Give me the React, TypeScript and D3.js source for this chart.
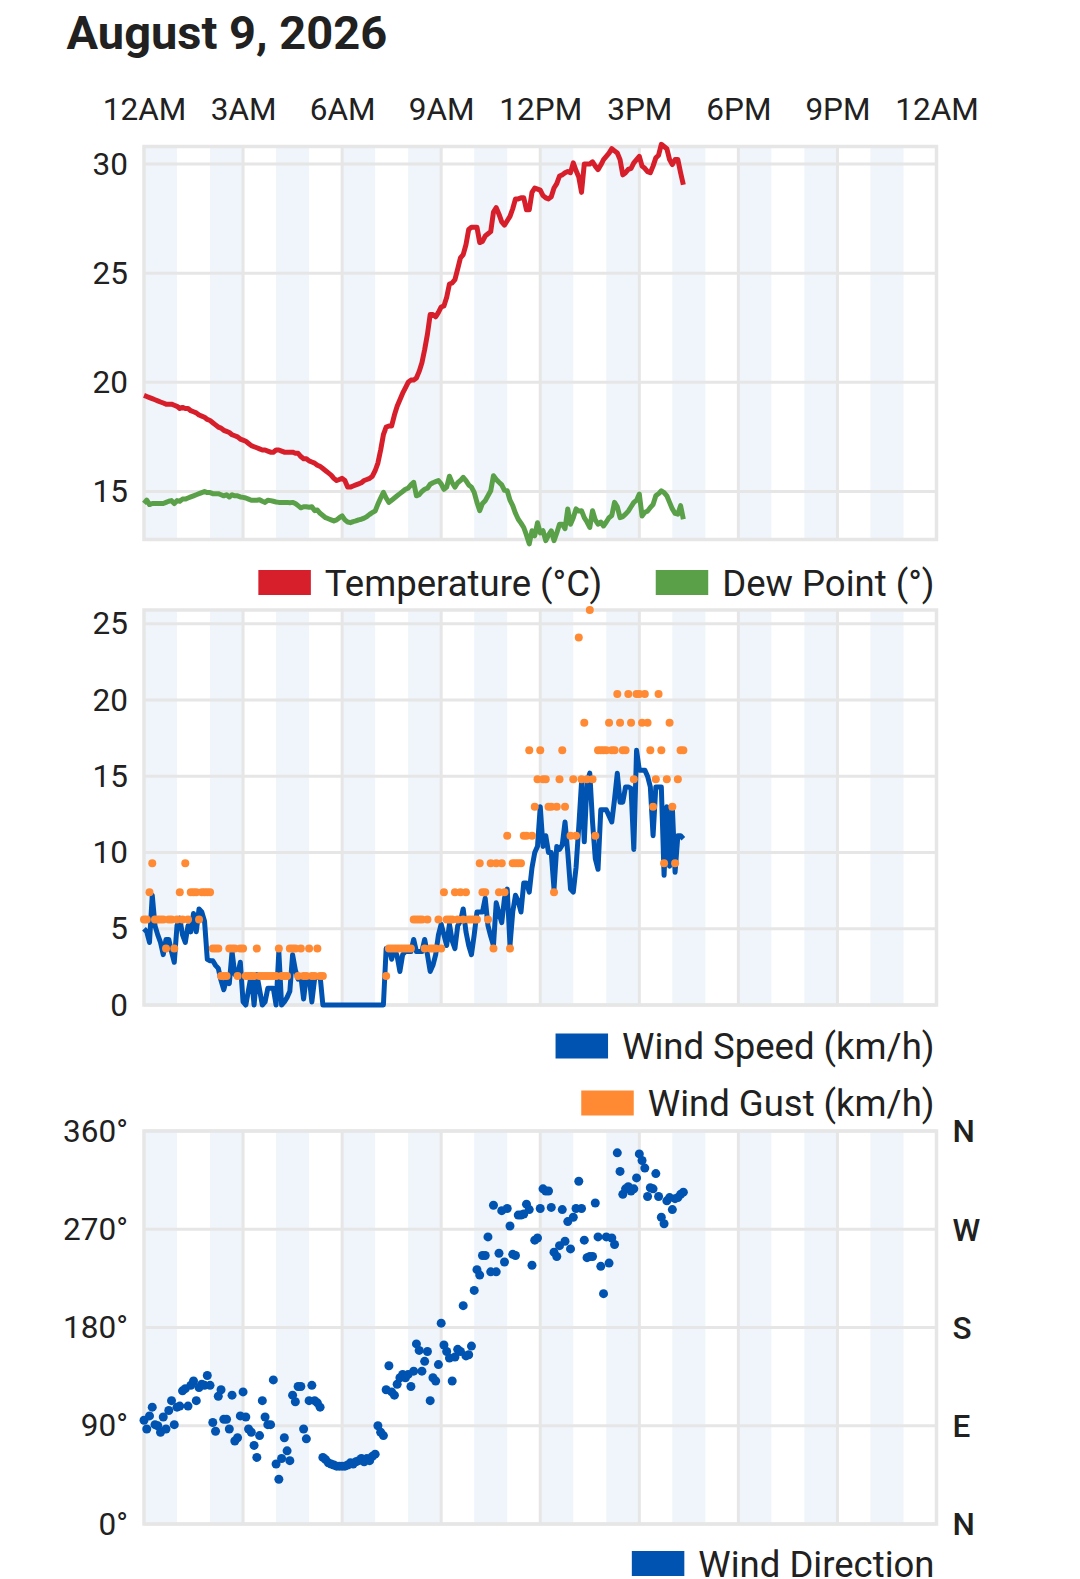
import React, { useRef, useEffect } from "react";
import * as d3 from "d3";

// one reading every 5 minutes, starting at midnight
const STEP_MIN = 5;

const hourLabels = ["12AM", "3AM", "6AM", "9AM", "12PM", "3PM", "6PM", "9PM", "12AM"];
const tempTicks = [15, 20, 25, 30];
const windTicks = [0, 5, 10, 15, 20, 25];
const dirTicks = [0, 90, 180, 270, 360];
const compassLabels = ["N", "E", "S", "W", "N"];

// °C
const temperature = [
  19.4, 19.35, 19.3, 19.25, 19.2, 19.15, 19.1, 19.05, 19.0, 19.0, 19.0, 18.95,
  18.9, 18.8, 18.85, 18.8, 18.8, 18.7, 18.65, 18.6, 18.5, 18.45, 18.4, 18.3,
  18.25, 18.15, 18.05, 17.95, 17.9, 17.8, 17.75, 17.7, 17.6, 17.55, 17.5, 17.4,
  17.35, 17.3, 17.2, 17.1, 17.05, 17.0, 16.95, 16.9, 16.9, 16.85, 16.8, 16.8,
  16.9, 16.9, 16.85, 16.8, 16.8, 16.8, 16.8, 16.75, 16.75, 16.6, 16.5, 16.5,
  16.4, 16.35, 16.3, 16.2, 16.15, 16.05, 15.95, 15.85, 15.75, 15.6, 15.5, 15.55,
  15.6, 15.5, 15.2, 15.2, 15.25, 15.3, 15.35, 15.4, 15.5, 15.55, 15.6, 15.7,
  15.95, 16.3, 16.9, 17.6, 17.95, 18.0, 18.0, 18.5, 18.9, 19.2, 19.5, 19.75,
  20.0, 20.1, 20.1, 20.2, 20.5, 20.9, 21.5, 22.2, 23.1, 23.1, 23.0, 23.2,
  23.45, 23.5, 23.9, 24.5, 24.55, 24.7, 25.2, 25.7, 25.85, 26.3, 27.0, 27.1,
  27.1, 27.1, 26.4, 26.45, 26.7, 26.8, 26.9, 27.8, 28.0, 27.7, 27.35, 27.2,
  27.4, 27.6, 27.95, 28.4, 28.4, 28.45, 28.45, 27.9, 27.9, 28.7, 28.9, 28.85,
  28.8, 28.55, 28.45, 28.4, 28.5, 28.9, 29.1, 29.45, 29.5, 29.6, 29.66, 29.6,
  30.05, 29.7, 29.4, 28.7, 30.0, 30.0, 30.0, 30.1, 29.9, 29.74, 29.95, 30.2,
  30.35, 30.5, 30.7, 30.6, 30.5, 30.2, 29.5, 29.6, 29.75, 29.8, 30.05, 30.2,
  30.35, 29.9, 29.8, 29.65, 29.6, 29.9, 30.28, 30.4, 30.9, 30.8, 30.7, 30.2,
  29.97, 30.2, 30.2, 29.6, 29.05,
];

const dewPoint = [
  14.45, 14.6, 14.4, 14.45, 14.45, 14.45, 14.45, 14.45, 14.5, 14.55, 14.58, 14.45,
  14.58, 14.55, 14.65, 14.65, 14.7, 14.75, 14.8, 14.85, 14.9, 14.95, 15.0, 14.95,
  14.95, 14.9, 14.9, 14.9, 14.85, 14.8, 14.85, 14.75, 14.85, 14.8, 14.8, 14.75,
  14.73, 14.7, 14.65, 14.6, 14.6, 14.6, 14.62, 14.55, 14.5, 14.6, 14.58, 14.55,
  14.52, 14.5, 14.5, 14.5, 14.5, 14.48, 14.5, 14.45, 14.35, 14.25, 14.3, 14.3,
  14.28, 14.3, 14.12, 14.15, 14.0, 13.9, 13.8, 13.75, 13.7, 13.65, 13.7, 13.8,
  13.88, 13.7, 13.6, 13.57, 13.62, 13.65, 13.7, 13.73, 13.78, 13.85, 13.95, 14.04,
  14.1, 14.42, 14.7, 14.96, 14.7, 14.5, 14.6, 14.7, 14.8, 14.9, 15.0, 15.1,
  15.15, 15.3, 15.42, 14.8, 14.85, 15.0, 15.1, 15.15, 15.33, 15.4, 15.45, 15.5,
  15.35, 15.1, 15.2, 15.7, 15.4, 15.2, 15.4, 15.5, 15.65, 15.5, 15.3, 15.2,
  14.96, 14.5, 14.12, 14.45, 14.58, 14.8, 15.03, 15.72, 15.55, 15.42, 15.3, 15.05,
  15.03, 14.6, 14.35, 14.0, 13.73, 13.55, 13.35, 13.0, 12.6, 13.2, 12.97, 13.57,
  13.1, 13.2, 12.75, 13.0, 13.2, 12.75, 13.1, 13.5, 13.5, 13.3, 14.2, 13.5,
  13.8, 14.2, 14.1, 14.12, 13.8, 13.6, 13.35, 14.12, 13.7, 13.5, 13.6, 13.42,
  13.6, 13.8, 13.9, 14.5, 14.3, 13.8, 13.85, 13.96, 14.1, 14.3, 14.5, 14.6,
  14.88, 13.88, 14.05, 14.1, 14.27, 14.4, 14.8, 14.9, 15.03, 14.95, 14.8, 14.5,
  14.2, 14.0, 13.96, 14.35, 13.73,
];

// km/h
const windSpeed = [
  5.0, 4.8, 4.1, 7.2, 5.2, 4.6, 4.1, 3.3, 4.3, 4.3, 3.5, 2.8,
  5.2, 5.7, 4.6, 4.1, 5.2, 4.8, 6.0, 4.8, 6.3, 6.1, 5.5, 3.0,
  2.9, 2.9, 2.6, 2.4, 1.6, 1.0, 1.7, 1.4, 3.5, 2.0, 2.0, 2.8,
  0.2, 0.0, 1.0, 2.0, 0.0, 2.0, 1.0, 0.0, 0.2, 1.1, 1.1, 1.1,
  0.0, 3.5, 0.0, 0.2, 0.5, 0.9, 3.3, 2.3, 1.7, 1.9, 0.4, 1.9,
  1.9, 0.2, 1.7, 1.9, 1.9, 0, 0, 0, 0, 0, 0, 0,
  0, 0, 0, 0, 0, 0, 0, 0, 0, 0, 0, 0,
  0, 0, 0, 0, 3.7, 3.7, 3.0, 3.7, 3.2, 2.2, 3.3, 3.5,
  3.5, 3.5, 4.3, 3.5, 3.5, 3.5, 4.3, 3.3, 2.2, 2.6, 3.3, 4.6,
  5.3, 4.6, 3.9, 5.3, 4.2, 3.7, 5.2, 5.5, 6.3, 4.8, 3.9, 3.3,
  4.6, 6.1, 6.1, 6.1, 7.0, 5.2, 4.5, 3.9, 6.7, 6.0, 5.4, 7.0,
  7.6, 3.9, 6.1, 7.2, 6.8, 6.1, 8.0, 8.0, 7.4, 9.0, 10.0, 10.4,
  13.0, 10.4, 11.1, 10.0, 10.0, 7.6, 10.4, 10.2, 10.5, 12.0, 10.0, 7.6,
  7.4, 9.0, 11.7, 14.6, 10.7, 14.6, 15.2, 12.0, 9.6, 8.9, 12.8, 12.8,
  12.8, 12.4, 12.0, 13.5, 15.2, 13.3, 13.3, 14.3, 14.3, 14.2, 10.2, 16.7,
  15.4, 15.4, 15.4, 15.0, 14.3, 11.1, 14.3, 14.3, 14.3, 8.5, 13.0, 9.1,
  13.0, 8.7, 11.1, 11.1, 10.9,
];

const windGust: (number | null)[] = [
  5.6, 5.6, 7.4, 9.3, 5.6, 5.6, 5.6, 5.6, 3.7, 5.6, 5.6, 3.7,
  5.6, 7.4, 5.6, 9.3, 5.6, 7.4, 7.4, 7.4, 5.6, 7.4, 7.4, 7.4,
  7.4, 3.7, 3.7, 3.7, 1.9, 1.9, 1.9, 3.7, 3.7, 3.7, 1.9, 3.7,
  3.7, 1.9, 1.9, 1.9, 1.9, 3.7, 1.9, 1.9, 1.9, 1.9, 1.9, 1.9,
  1.9, 3.7, 1.9, 1.9, 1.9, 3.7, 3.7, 3.7, 1.9, 3.7, 1.9, 1.9,
  3.7, 1.9, 1.9, 3.7, 1.9, 1.9, null, null, null, null, null, null,
  null, null, null, null, null, null, null, null, null, null, null, null,
  null, null, null, null, 1.9, 3.7, 3.7, 3.7, 3.7, 3.7, 3.7, 3.7,
  3.7, 3.7, 5.6, 5.6, 5.6, 5.6, 3.7, 5.6, 3.7, 3.7, 3.7, 5.6,
  3.7, 7.4, 5.6, 5.6, 5.6, 7.4, 5.6, 7.4, 5.6, 7.4, 5.6, 5.6,
  5.6, 5.6, 9.3, 7.4, 7.4, 5.6, 9.3, 3.7, 9.3, 7.4, 9.3, 7.4,
  11.1, 3.7, 9.3, 9.3, 9.3, 9.3, 11.1, 11.1, 16.7, 11.1, 13.0, 14.8,
  16.7, 14.8, 14.8, 13.0, 13.0, 7.4, 13.0, 14.8, 16.7, 13.0, null, 11.1,
  14.8, 11.1, 24.1, 14.8, 18.5, 14.8, 25.9, 14.8, 11.1, 16.7, 16.7, 16.7,
  16.7, 18.5, 16.7, 16.7, 20.4, 18.5, 16.7, 16.7, 20.4, 18.5, 14.8, 20.4,
  20.4, 18.5, 20.4, 18.5, 16.7, 13.0, 14.8, 20.4, 16.7, 9.3, 14.8, 18.5,
  13.0, 9.3, 14.8, 16.7, 16.7,
];

// degrees
const windDirection = [
  95, 87, 99, 107, 91, 90, 84, 98, 87, 104, 113, 91,
  107, 108, 122, 124, 108, 127, 131, 113, 125, 128, 127, 136,
  127, 93, 85, 117, 123, 96, 96, 87, 118, 76, 79, 99,
  121, 98, 87, 84, 72, 61, 81, 113, 98, 91, 91, 132,
  55, 41, 60, 79, 67, 58, 118, 112, 126, 126, 87, 78,
  113, 127, 113, 111, 107, 61, 59, 56, 55, 54, 53, 53,
  53, 53, 54, 56, 55, 57, 58, 60, 57, 60, 58, 62,
  64, 90, 84, 81, 123, 145, 121, 118, 128, 134, 137, 134,
  137, 126, 140, 165, 159, 140, 149, 158, 113, 134, 131, 146,
  184, 164, 158, 152, 131, 153, 160, 158, 200, 154, 155, 163,
  214, 233, 228, 246, 246, 263, 231, 292, 231, 248, 287, 240,
  289, 273, 247, 246, 283, 283, 284, 293, 288, 237, 260, 262,
  289, 307, 305, 305, 290, 249, 245, 255, 288, 259, 277, 252,
  281, 289, 314, 289, 260, 244, 245, 245, 294, 263, 236, 211,
  263, 239, 262, 256, 340, 323, 302, 307, 309, 305, 307, 317,
  339, 333, 326, 300, 308, 307, 321, 300, 281, 275, 296, 299,
  288, 298, 299, 302, 304,
];

const COLORS = {
  temp: "#d71f2b",
  dew: "#5aa049",
  speed: "#0053b1",
  gust: "#ff8a33",
  dir: "#0053b1",
  band: "#eff5fa",
  grid: "#e6e6e6",
  text: "#212121",
};

const WeatherChart: React.FC = () => {
  const ref = useRef<SVGSVGElement>(null);

  useEffect(() => {
    if (!ref.current) return;
    const svg = d3.select(ref.current);
    svg.selectAll("*").remove();

    const left = 144;
    const right = 936.5;
    const tickFont = 31.5;
    const legendFont = 36.5;
    const x = d3.scaleLinear().domain([0, 24 * 60]).range([left, right]);
    const t = (i: number) => x(i * STEP_MIN);

    const panel = (top: number, bottom: number) => {
      const g = svg.append("g");
      // shaded every other hour
      g.selectAll("rect.band")
        .data(d3.range(0, 24, 2))
        .join("rect")
        .attr("x", (h) => x(h * 60))
        .attr("width", (h) => x((h + 1) * 60) - x(h * 60))
        .attr("y", top)
        .attr("height", bottom - top)
        .attr("fill", COLORS.band);
      g.selectAll("line.vgrid")
        .data(d3.range(3, 24, 3))
        .join("line")
        .attr("x1", (h) => x(h * 60))
        .attr("x2", (h) => x(h * 60))
        .attr("y1", top)
        .attr("y2", bottom)
        .attr("stroke", COLORS.grid)
        .attr("stroke-width", 3);
      return g;
    };

    const hGrid = (g: any, y: d3.ScaleLinear<number, number>, ticks: number[]) => {
      g.selectAll("line.hgrid")
        .data(ticks)
        .join("line")
        .attr("x1", left)
        .attr("x2", right)
        .attr("y1", (d: number) => y(d))
        .attr("y2", (d: number) => y(d))
        .attr("stroke", COLORS.grid)
        .attr("stroke-width", 3);
    };

    const frame = (top: number, bottom: number) => {
      svg
        .append("rect")
        .attr("x", left)
        .attr("y", top)
        .attr("width", right - left)
        .attr("height", bottom - top)
        .attr("fill", "none")
        .attr("stroke", COLORS.grid)
        .attr("stroke-width", 3.5);
    };

    const leftAxis = (y: d3.ScaleLinear<number, number>, ticks: number[], fmt: (d: number) => string) => {
      const a = svg
        .append("g")
        .attr("transform", `translate(${left},0)`)
        .call(
          d3
            .axisLeft(y)
            .tickValues(ticks)
            .tickSize(0)
            .tickPadding(16)
            .tickFormat((d) => fmt(d as number))
        );
      a.select(".domain").remove();
      a.selectAll("text")
        .attr("font-size", tickFont)
        .attr("font-family", "Roboto")
        .attr("fill", COLORS.text);
    };

    // legend rows, right aligned to the plot edge
    const legendRow = (items: { label: string; color: string }[], cy: number, endX: number) => {
      let cursor = endX;
      for (let k = items.length - 1; k >= 0; k--) {
        const it = items[k];
        const txt = svg
          .append("text")
          .attr("x", cursor)
          .attr("y", cy)
          .attr("dy", "0.36em")
          .attr("text-anchor", "end")
          .attr("font-size", legendFont)
          .attr("fill", COLORS.text)
          .text(it.label);
        const w = (txt.node() as SVGTextElement).getComputedTextLength();
        const swRight = cursor - w - 14;
        svg
          .append("rect")
          .attr("x", swRight - 52.5)
          .attr("y", cy - 12.5)
          .attr("width", 52.5)
          .attr("height", 25)
          .attr("fill", it.color);
        cursor = swRight - 52.5 - 53.5;
      }
    };

    // title
    svg
      .append("text")
      .attr("x", 66.5)
      .attr("y", 48.5)
      .attr("font-size", 47)
      .attr("font-weight", "bold")
      .attr("fill", COLORS.text)
      .text("August 9, 2026");

    // time labels
    const topAxis = svg
      .append("g")
      .attr("transform", `translate(0,146)`)
      .call(
        d3
          .axisTop(x)
          .tickValues(d3.range(0, 24 * 60 + 1, 180))
          .tickSize(0)
          .tickPadding(26)
          .tickFormat((d, i) => hourLabels[i])
      );
    topAxis.select(".domain").remove();
    topAxis
      .selectAll("text")
      .attr("font-size", tickFont)
      .attr("font-family", "Roboto")
      .attr("fill", COLORS.text);

    // ---- temperature / dew point ----
    const tTop = 146.5;
    const tBot = 539.5;
    const yT = d3.scaleLinear().domain([12.8, 30.8]).range([tBot, tTop]);
    const gT = panel(tTop, tBot);
    hGrid(gT, yT, tempTicks);
    frame(tTop, tBot);
    leftAxis(yT, tempTicks, (d) => `${d}`);

    const lineT = d3
      .line<number>()
      .x((_, i) => t(i))
      .y((d) => yT(d));
    svg
      .append("path")
      .datum(dewPoint)
      .attr("fill", "none")
      .attr("stroke", COLORS.dew)
      .attr("stroke-width", 5)
      .attr("stroke-linejoin", "round")
      .attr("d", lineT);
    svg
      .append("path")
      .datum(temperature)
      .attr("fill", "none")
      .attr("stroke", COLORS.temp)
      .attr("stroke-width", 5)
      .attr("stroke-linejoin", "round")
      .attr("d", lineT);

    legendRow(
      [
        { label: "Temperature (°C)", color: COLORS.temp },
        { label: "Dew Point (°)", color: COLORS.dew },
      ],
      582.5,
      934.5
    );

    // ---- wind speed / gust ----
    const wTop = 610;
    const wBot = 1005;
    const yW = d3
      .scaleLinear()
      .domain([0, d3.max(windGust, (d) => d ?? 0) as number])
      .range([wBot, wTop]);
    const gW = panel(wTop, wBot);
    hGrid(gW, yW, windTicks);
    frame(wTop, wBot);
    leftAxis(yW, windTicks, (d) => `${d}`);

    svg
      .append("path")
      .datum(windSpeed)
      .attr("fill", "none")
      .attr("stroke", COLORS.speed)
      .attr("stroke-width", 5)
      .attr("stroke-linejoin", "round")
      .attr(
        "d",
        d3
          .line<number>()
          .x((_, i) => t(i))
          .y((d) => yW(d))
      );

    svg
      .append("g")
      .selectAll("circle")
      .data(windGust.map((v, i) => ({ v, i })).filter((d) => d.v !== null))
      .join("circle")
      .attr("cx", (d) => t(d.i))
      .attr("cy", (d) => yW(d.v as number))
      .attr("r", 4)
      .attr("fill", COLORS.gust);

    legendRow([{ label: "Wind Speed (km/h)", color: COLORS.speed }], 1046, 934.5);
    legendRow([{ label: "Wind Gust (km/h)", color: COLORS.gust }], 1103, 934.5);

    // ---- wind direction ----
    const dTop = 1131;
    const dBot = 1524;
    const yD = d3.scaleLinear().domain([0, 360]).range([dBot, dTop]);
    const gD = panel(dTop, dBot);
    hGrid(gD, yD, dirTicks);
    frame(dTop, dBot);
    leftAxis(yD, dirTicks, (d) => `${d}°`);

    svg
      .append("g")
      .selectAll("text")
      .data(dirTicks)
      .join("text")
      .attr("x", 952.5)
      .attr("y", (d) => yD(d))
      .attr("dy", "0.36em")
      .attr("font-size", tickFont)
      .attr("font-weight", 500)
      .attr("fill", COLORS.text)
      .text((_, i) => compassLabels[i]);

    svg
      .append("g")
      .selectAll("circle")
      .data(windDirection)
      .join("circle")
      .attr("cx", (_, i) => t(i))
      .attr("cy", (d) => yD(d))
      .attr("r", 4.5)
      .attr("fill", COLORS.dir);

    legendRow([{ label: "Wind Direction", color: COLORS.dir }], 1563.5, 934.5);
  }, []);

  return (
    <svg
      ref={ref}
      width={1080}
      height={1579}
      style={{ position: "absolute", left: 0, top: 0, fontFamily: "Roboto, sans-serif" }}
    ></svg>
  );
};

export default function App() {
  return <WeatherChart />;
}
